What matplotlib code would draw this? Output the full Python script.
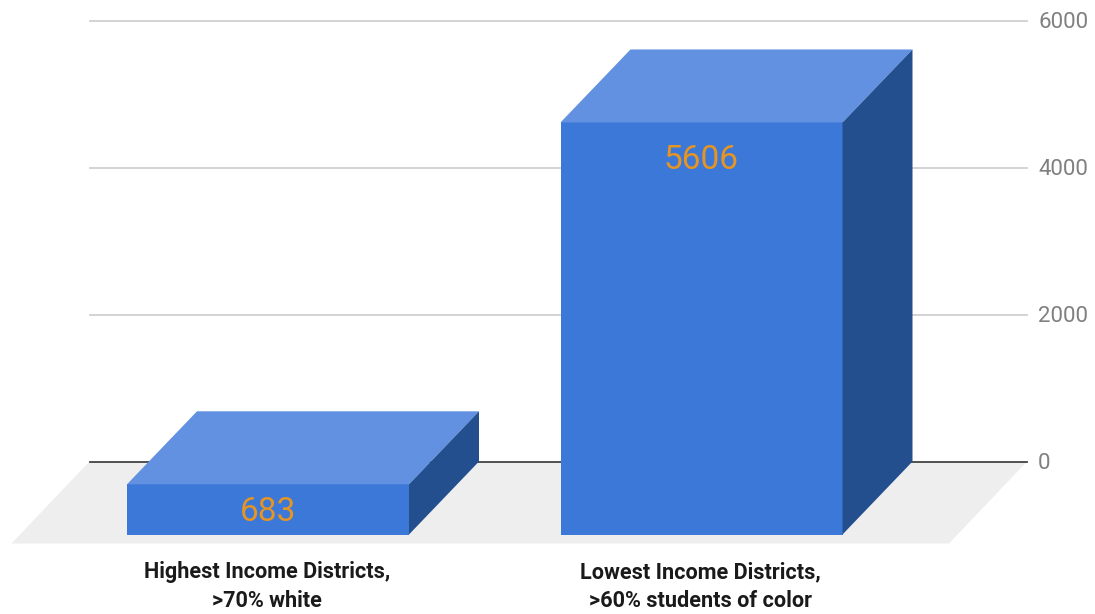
import matplotlib
matplotlib.use('Agg')
import matplotlib.pyplot as plt
from matplotlib.patches import Polygon

categories = ['Highest Income Districts,\n>70% white', 'Lowest Income Districts,\n>60% students of color']
values = [683, 5606]
yticks = [0, 2000, 4000, 6000]

# pixel sizes of the picture, used to set up the scales
W, H = 1095, 614
px_y = 0.0735   # px per unit
px_x = 433.5    # px per category
y0_px = 461.5
x0_px = 268

depth_x = 70 / px_x
depth_y = 73 / px_y
bar_w = 282 / px_x

plt.rcParams['font.family'] = ['Roboto', 'DejaVu Sans']

fig = plt.figure(figsize=(W / 100, H / 100), dpi=100)
ax = fig.add_axes([0, 0, 1, 1])
ax.set_xlim(-x0_px / px_x, (W - x0_px) / px_x)
ax.set_ylim((y0_px - H) / px_y, y0_px / px_y)
ax.axis('off')

x_left = (89.5 - x0_px) / px_x
x_right = (1027 - x0_px) / px_x
slant = 78 / px_x
floor_y = -82 / px_y

# floor
ax.add_patch(Polygon([(x_left, 0), (x_right, 0), (x_right - slant, floor_y), (x_left - slant, floor_y)],
                     fc='#eeeeee', ec='none', zorder=1))

# grid
for t in yticks:
    col = '#444444' if t == 0 else '#d0d0d0'
    ax.plot([x_left, x_right], [t, t], c=col, lw=1.3, zorder=2)
    ax.text(x_right + 11 / px_x, t - 2 / px_y, str(t), color='#808080', fontsize=16, va='center', ha='left', zorder=5)

# bars
for i, (c, v) in enumerate(zip(categories, values)):
    l = i - bar_w / 2
    r = i + bar_w / 2
    b = -depth_y
    t = v - depth_y
    ax.add_patch(Polygon([(l, b), (r, b), (r, t), (l, t)], fc='#3c78d8', ec='none', zorder=3))
    ax.add_patch(Polygon([(l, t), (r, t), (r + depth_x, v), (l + depth_x, v)], fc='#6191e0', ec='none', zorder=3))
    ax.add_patch(Polygon([(r, b), (r + depth_x, 0), (r + depth_x, v), (r, t)], fc='#244f8f', ec='none', zorder=3))
    # label sits near the top of the front face, or mid face on a short bar
    inset = min(38 / px_y, v / 2 + 3 / px_y)
    ax.text(i, t - inset, str(v), color='#e69422', fontsize=24, ha='center', va='center', zorder=6)
    line1, line2 = c.split('\n')
    ax.text(i - 0.002, -110.5 / px_y, line1, color='#1a1a1a', fontsize=15.6, fontweight='bold',
            ha='center', va='center', zorder=6)
    ax.text(i - 0.002, -139.5 / px_y, line2, color='#1a1a1a', fontsize=15.6, fontweight='bold',
            ha='center', va='center', zorder=6)

fig.savefig('out.png', dpi=100)
